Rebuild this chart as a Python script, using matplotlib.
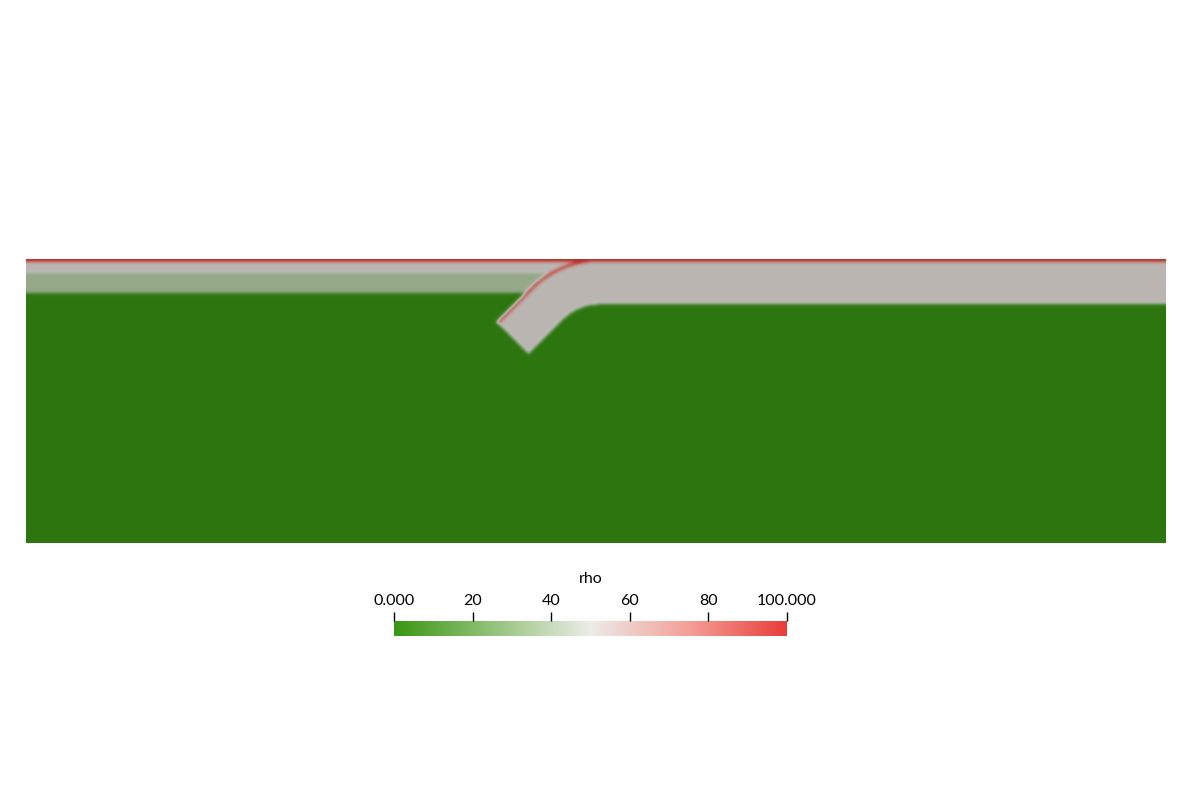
import numpy as np
import matplotlib
matplotlib.use('Agg')
import matplotlib.pyplot as plt
from matplotlib.colors import LinearSegmentedColormap

plt.rcParams['font.family'] = ['Lato', 'DejaVu Sans']

# model domain (km)
width_km = 4000.0
depth_km = 1000.0
nx, nz = 1140, 284

# field values (rho)
mantle_rho = 0.0
upper_depths = [0.0, 10.0, 50.0, 120.0]     # overriding plate layer bounds
upper_rho = [100.0, 52.0, 37.0]
plate_depths = [0.0, 10.0, 160.0]           # subducting plate layer bounds
plate_rho = [100.0, 52.0]

# slab geometry
hinge_x = 1905.0
dip_deg = 45.0
bend_radius = 260.0
slab_length = 280.0

# colour map
cmap_pos = [0.0, 0.25, 0.5, 0.75, 1.0]
cmap_rgb = [(58, 150, 20), (148, 194, 122), (236, 236, 232), (244, 160, 152), (232, 62, 58)]
shade = 0.79

cbar_ticks = [0, 20, 40, 60, 80, 100]
cbar_labels = ['0.000', '20', '40', '60', '80', '100.000']
cbar_title = 'rho'

# ---- build the field ----
x = (np.arange(nx) + 0.5) * width_km / nx
z = (np.arange(nz) + 0.5) * depth_km / nz
X, Z = np.meshgrid(x, z)

thick = plate_depths[-1]
zc = thick / 2
dip = np.radians(dip_deg)
ux, uz = -np.cos(dip), np.sin(dip)
nvx, nvz = np.sin(dip), np.cos(dip)
d = bend_radius * np.tan(dip / 2)
cx, cz = hinge_x + d, zc + bend_radius
t2x, t2z = hinge_x + d * ux, zc + d * uz

sC = (X - t2x) * ux + (Z - t2z) * uz
regA = X >= cx
regC = (~regA) & (sC >= 0)
regB = (~regA) & (~regC)

n = np.empty_like(X)
n[regA] = Z[regA] - zc
n[regC] = ((X - t2x) * nvx + (Z - t2z) * nvz)[regC]
n[regB] = bend_radius - np.hypot(X - cx, Z - cz)[regB]
inside = regA | regB | (regC & (sC <= slab_length - d))
dd = n + zc   # depth below the plate top surface

rho = np.full(X.shape, mantle_rho)
above = dd < 0
for i in range(len(upper_rho)):
    m = above & (Z >= upper_depths[i]) & (Z < upper_depths[i + 1])
    rho[m] = upper_rho[i]
for i in range(len(plate_rho)):
    m = inside & (dd >= plate_depths[i]) & (dd <= plate_depths[i + 1])
    rho[m] = plate_rho[i]
rho[Z < upper_depths[1]] = upper_rho[0]

# smooth like interpolated mesh data
sig = 1.6
k = np.arange(-5, 6)
kern = np.exp(-0.5 * (k / sig) ** 2)
kern /= kern.sum()
pad = np.pad(rho, 5, mode='edge')
pad = np.apply_along_axis(lambda r: np.convolve(r, kern, mode='same'), 1, pad)
pad = np.apply_along_axis(lambda c: np.convolve(c, kern, mode='same'), 0, pad)
rho_s = pad[5:-5, 5:-5]

rgb = np.array(cmap_rgb) / 255.0
cmap = LinearSegmentedColormap.from_list('gwr', list(zip(cmap_pos, rgb)))
cmap_lit = LinearSegmentedColormap.from_list('gwr_lit', list(zip(cmap_pos, rgb * shade)))

W, H = 1192, 802
fig = plt.figure(figsize=(W / 100, H / 100), dpi=100)

ax = fig.add_axes([26 / W, (H - 543) / H, 1140 / W, 284 / H])
ax.imshow(rho_s, cmap=cmap_lit, vmin=0, vmax=100, extent=[0, width_km, depth_km, 0],
          aspect='auto', interpolation='bilinear')
ax.set_axis_off()

cax = fig.add_axes([394 / W, (H - 636) / H, 393 / W, 15 / H])
grad = np.linspace(0, 100, 512)[None, :]
cax.imshow(grad, cmap=cmap, vmin=0, vmax=100, extent=[0, 100, 0, 1], aspect='auto')
cax.set_xlim(0, 100)
cax.set_yticks([])
cax.set_xticks(cbar_ticks)
cax.set_xticklabels(cbar_labels)
cax.xaxis.tick_top()
cax.tick_params(axis='x', top=True, bottom=False, labeltop=True, labelbottom=False,
                length=6.5, width=1, direction='out', pad=3, labelsize=11.5, colors='black')
for s in cax.spines.values():
    s.set_visible(False)
fig.text(590.5 / W, 1 - 579 / H, cbar_title, ha='center', va='center', fontsize=11.5)

fig.savefig('out.png', dpi=100)
